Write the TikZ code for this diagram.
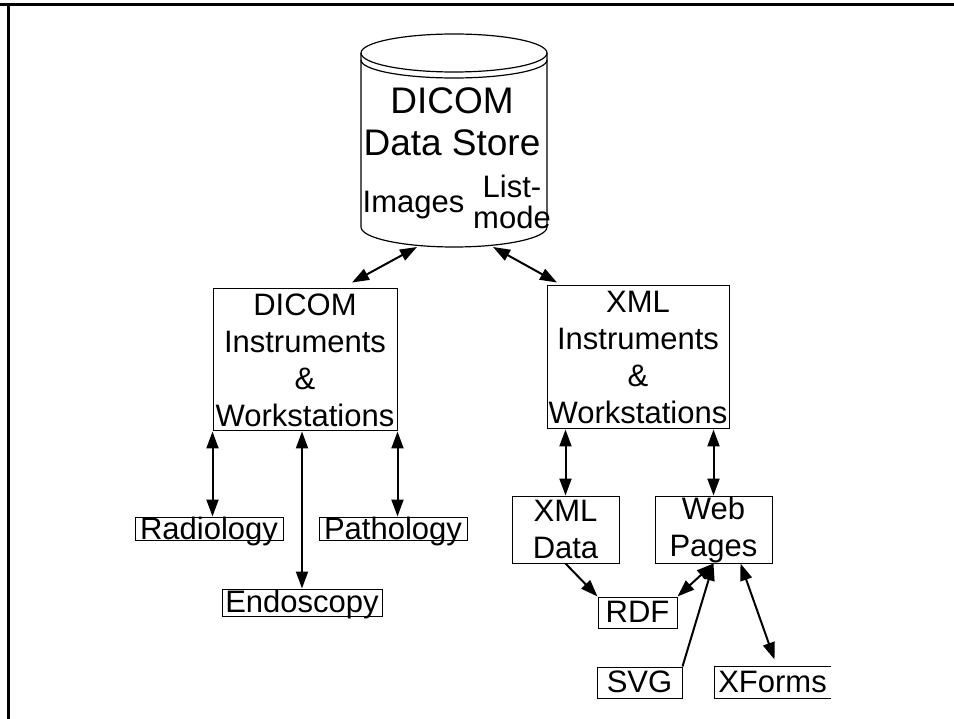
\documentclass[tikz,border=0pt]{standalone}
\usepackage{fontspec}
\setmainfont{Liberation Sans}
\usetikzlibrary{arrows.meta,calc}

\begin{document}
\begin{tikzpicture}[x=1pt,y=-1pt]
	\tikzstyle{every node}+=[inner sep=0pt]
	\tikzstyle{boxed}=[draw,line width=1pt,align=center,font=\fontsize{31}{37}\selectfont]
	\tikzstyle{tightbox}=[boxed,text height=22pt,text depth=0pt,inner ysep=0.5pt]
	\tikzstyle{smallbox}=[boxed,text height=24pt,text depth=5pt,inner ysep=1pt]
	\tikzstyle{dbl}=[{Triangle[length=17pt,width=12pt]}-{Triangle[length=17pt,width=12pt]},line width=2pt]
	\tikzstyle{sgl}=[-{Triangle[length=17pt,width=12pt]},line width=2pt]
	\useasboundingbox (0,0) rectangle (954,719);
	\draw [line width=3pt] (0,4.5) -- (954,4.5);
	\draw [line width=2.5pt] (8.5,3) -- (8.5,719);
	\draw [line width=1.2pt] (361,53) -- (361,227) arc (180:360:93pt and 20pt) -- (547,53);
	\draw [line width=1.2pt] (454,53) ellipse [x radius=93pt,y radius=19pt];
	\draw [line width=1.2pt] (361,60) arc (180:360:93pt and 18pt);
	\node [align=center,anchor=north,font=\fontsize{37}{42}\selectfont] (store) at (452,87) {DICOM\\Data Store};
	\node [anchor=base,font=\fontsize{31}{37}\selectfont] (images) at (413.5,213) {Images};
	\node [align=center,font=\fontsize{31}{31}\selectfont] (listmode) at (512,202) {List-\\mode};
	\coordinate (storeL) at (417,247);
	\coordinate (storeR) at (493,247);
	\node [boxed,minimum width=184pt,minimum height=142pt] (dicom) at (305,360) {DICOM\\Instruments\\\&\\Workstations};
	\node [boxed,minimum width=182pt,minimum height=143pt] (xmlinst) at (638,357.5) {XML\\Instruments\\\&\\Workstations};
	\node [tightbox,minimum width=148pt] (radio) at (209,528.5) {Radiology};
	\node [tightbox,minimum width=148pt] (patho) at (393,528.5) {Pathology};
	\node [tightbox,text height=22pt,text depth=3pt,inner ysep=1pt,minimum width=160pt] (endo) at (302,602.5) {Endoscopy};
	\node [boxed,minimum width=107pt,minimum height=67pt] (xdata) at (565.5,529.5) {XML\\Data};
	\node [boxed,minimum width=117pt,minimum height=67pt] (web) at (713.5,529.5) {Web\\Pages};
	\node [smallbox,minimum width=79pt] (rdf) at (637.5,612.5) {RDF};
	\node [smallbox,minimum width=85pt] (svg) at (639.5,682.5) {SVG};
	\node [smallbox,draw=none,minimum width=115pt] (xforms) at (772.5,682.5) {XForms};
	\draw [line width=1pt] (xforms.north east) -- (xforms.north west) -- (xforms.south west) -- (xforms.south east);
	\draw [dbl] (storeL) -- ($(dicom.north)+(47,-6)$);
	\draw [dbl] (storeR) -- ($(xmlinst.north)+(-81,-3)$);
	\draw [dbl] (dicom.south west) -- (dicom.south west |- radio.north);
	\draw [dbl] (dicom.south -| endo.north) -- (endo.north);
	\draw [dbl] (dicom.south east) -- (dicom.south east |- patho.north);
	\draw [dbl] (xmlinst.south -| xdata.north) -- (xdata.north);
	\draw [dbl] (xmlinst.south -| web.north) -- (web.north);
	\draw [sgl] (xdata.south) -- (rdf.north west);
	\draw [dbl] (web.south) -- (rdf.north east);
	\draw [sgl] (svg.north east) -- (web.south);
	\draw [dbl] ($(web.south)+(27,0)$) -- ($(xforms.north)+(2,-7)$);
\end{tikzpicture}
\end{document}
